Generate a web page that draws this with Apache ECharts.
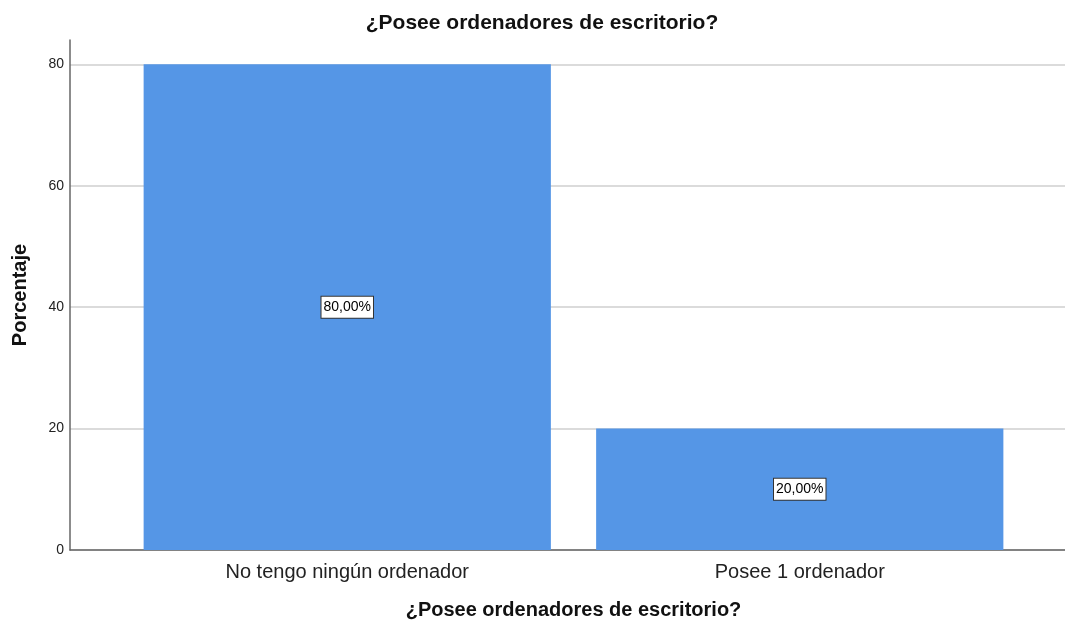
<!DOCTYPE html>
<html><head><meta charset="utf-8">
<script src="https://cdn.jsdelivr.net/npm/echarts@6/dist/echarts.min.js"></script>
<style>html,body{margin:0;padding:0;background:#fff}#c{width:1065px;height:623px}</style>
</head><body><div id="c"></div>
<script>
const categories = ['No tengo ningún ordenador', 'Posee 1 ordenador'];
const values = [80, 20];
const labels = ['80,00%', '20,00%'];
const yTicks = [0, 20, 40, 60, 80];
const titleText = '¿Posee ordenadores de escritorio?';

const chart = echarts.init(document.getElementById('c'));
const FONT = 'Liberation Sans, Arial, sans-serif';
chart.setOption({
  animation: false,
  textStyle: { fontFamily: FONT },
  title: { text: titleText, left: 537, top: 8, textAlign: 'center',
    textStyle: { fontSize: 21, fontWeight: 'bold', color: '#111', fontFamily: FONT } },
  grid: [
    { left: 70, right: 0, top: 40, height: 510, outerBoundsMode: 'none', containLabel: false },
    { left: 121, width: 905, top: 40, height: 510, outerBoundsMode: 'none', containLabel: false }
  ],
  xAxis: [
    { type: 'value', gridIndex: 0, min: 0, max: 1, show: true,
      axisLine: { show: true, lineStyle: { color: '#666', width: 1.5 } },
      axisTick: { show: false }, axisLabel: { show: false }, splitLine: { show: false },
      name: titleText, nameLocation: 'middle', nameGap: 50,
      nameTextStyle: { fontSize: 20, fontWeight: 'bold', color: '#111', fontFamily: FONT, padding: [0, 0, 0, 12] } },
    { type: 'category', gridIndex: 1, data: categories,
      axisLine: { show: false }, axisTick: { show: false },
      axisLabel: { fontSize: 20, color: '#222', margin: 12, fontFamily: FONT } }
  ],
  yAxis: [
    { type: 'value', gridIndex: 0, min: 0, max: 84, interval: 20,
      axisLine: { show: true, lineStyle: { color: '#666', width: 1.5 } },
      axisTick: { show: false },
      axisLabel: { fontSize: 14, color: '#222', margin: 6, fontFamily: FONT,
        customValues: yTicks },
      splitLine: { show: true, lineStyle: {
        color: ['#cfcfcf', '#cfcfcf', '#cfcfcf', '#cfcfcf', '#cfcfcf', 'rgba(0,0,0,0)'], width: 1.5 } },
      name: 'Porcentaje', nameLocation: 'middle', nameGap: 40, nameRotate: 90,
      nameTextStyle: { fontSize: 20, fontWeight: 'bold', color: '#111', fontFamily: FONT } },
    { type: 'value', gridIndex: 1, min: 0, max: 84, show: false }
  ],
  series: [{
    type: 'bar', xAxisIndex: 1, yAxisIndex: 1,
    data: values, barCategoryGap: '10%',
    itemStyle: { color: '#5596E6' },
    label: { show: true, position: 'inside',
      formatter: p => labels[p.dataIndex],
      fontSize: 14, color: '#000', backgroundColor: '#fff',
      borderColor: '#333', borderWidth: 1, padding: [4, 2, 3, 2], fontFamily: FONT }
  }]
});
</script></body></html>
